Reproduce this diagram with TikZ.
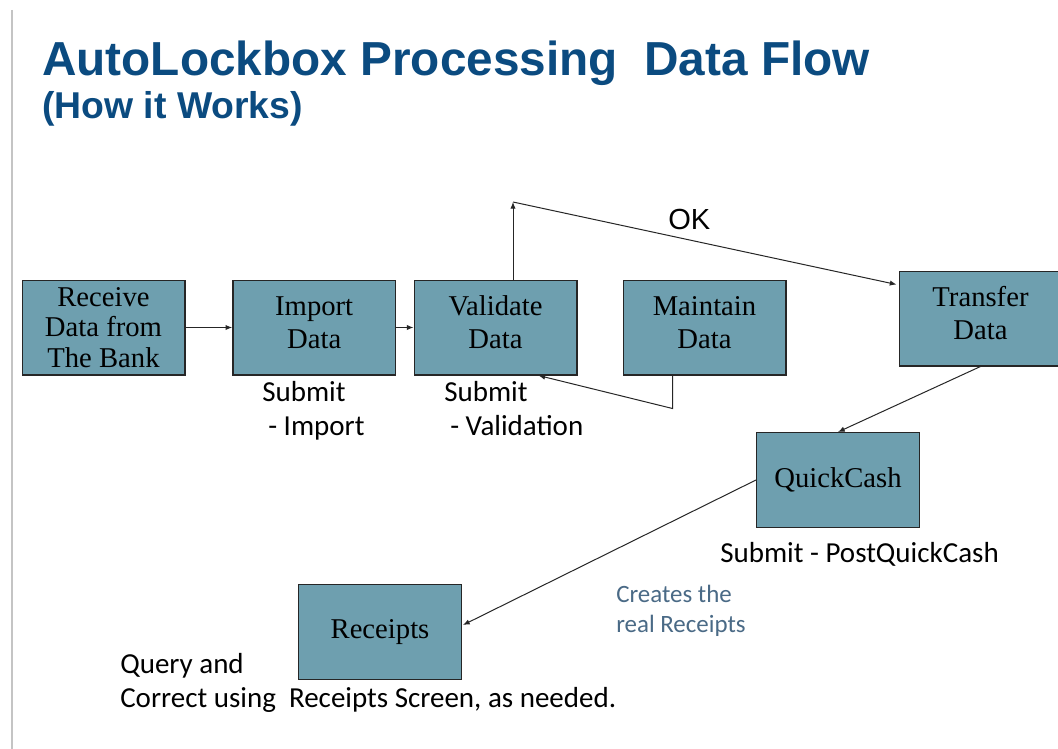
\documentclass[tikz,border=0pt]{standalone}
\usepackage{fontspec}
\setmainfont{Liberation Serif}
\newfontfamily\headfamily{Liberation Sans}
\newfontfamily\notefamily{Carlito}
\usepackage{xcolor}
\usepackage{tikz}
\usetikzlibrary{arrows.meta,positioning,calc}
\definecolor{titleblue}{HTML}{0B4B80}
\definecolor{boxteal}{HTML}{6E9FAF}
\definecolor{boxedge}{HTML}{262626}
\definecolor{linegray}{HTML}{262626}
\definecolor{notegray}{HTML}{4A6A86}
\definecolor{rulegray}{HTML}{C4C4C4}
\tikzset{
  flow/.style={-{Latex[length=5pt,width=4pt]}, line width=0.75pt, draw=linegray},
  box/.style={draw=boxedge, fill=boxteal, line width=1pt, align=center,
              minimum width=122pt, minimum height=71pt, inner sep=0pt,
              font=\fontsize{21.5}{23}\selectfont},
  twobox/.style={box, font=\fontsize{21.5}{24.75}\selectfont},
  note/.style={anchor=north west, inner sep=0pt, align=left,
               font=\notefamily\fontsize{21.75}{25.5}\selectfont},
  smallnote/.style={note, text=notegray,
               font=\notefamily\fontsize{18.7}{22.5}\selectfont}
}
\newcommand{\lowpad}{\rule[-8pt]{0pt}{0pt}}

\begin{document}
\begin{tikzpicture}[x=0.75pt, y=-0.75pt]
  \useasboundingbox[fill=white] (0,0) rectangle (1058,749);
  \draw[rulegray, line width=1.5pt] (12,10) -- (12,749);

  \node[anchor=base west, inner sep=0pt, text=titleblue,
        font=\headfamily\bfseries\fontsize{35.8}{40}\selectfont] (title) at (42,76)
        {AutoLockbox Processing\ \ Data Flow};
  \node[anchor=base west, inner sep=0pt, text=titleblue,
        font=\headfamily\bfseries\fontsize{28}{32}\selectfont] (subtitle) at (42,118)
        {(How it Works)};

  % main row
  \node[box] (receive) at (103.5,327.5) {Receive\\Data from\\The Bank};
  \node[twobox, right=35pt of receive] (import) {Import\\Data\lowpad};
  \node[twobox, right=13pt of import] (validate) {Validate\\Data\lowpad};
  \node[twobox, right=33.75pt of validate] (maintain) {Maintain\\Data\lowpad};
  \node[twobox] (transfer) at (980.5,318.5) {Transfer\\Data\lowpad};
  \node[box] (quickcash) at (838,480) {QuickCash};
  \node[box] (receipts) at (380,632) {Receipts};

  \coordinate (okbend) at (513,202);

  \node[note] (importnote) at (262,381) {Submit\\\hspace*{4.5pt}- Import};
  \node[note] (validnote) at (444,381) {Submit\\\hspace*{4.5pt}- Validation};
  \node[anchor=base west, inner sep=0pt,
        font=\headfamily\fontsize{21.8}{24}\selectfont] (oklabel) at (668,229) {OK};
  \node[note, anchor=base west] (postnote) at (720,562) {Submit - PostQuickCash};
  \node[smallnote] (createsnote) at (616,585) {Creates the\\real Receipts};
  \node[note] (querynote) at (120,653) {Query and\\Correct using\ \ Receipts Screen, as needed.};

  \draw[flow] (receive) -- (import);
  \draw[flow] (import) -- (validate);
  \draw[flow] (validate.north -| okbend) -- (okbend);
  \draw[flow] (okbend) -- ($(transfer.north west)+(-2,14)$);
  \draw[flow] ($(maintain.south)+(-32,0)$) -- ++(0,33) -- ($(validate.south)+(43,0)$);
  \draw[flow] (transfer.south) -- (quickcash.north);
  \draw[flow] (quickcash.west) -- ($(receipts.east)+(1,-7)$);
\end{tikzpicture}
\end{document}
